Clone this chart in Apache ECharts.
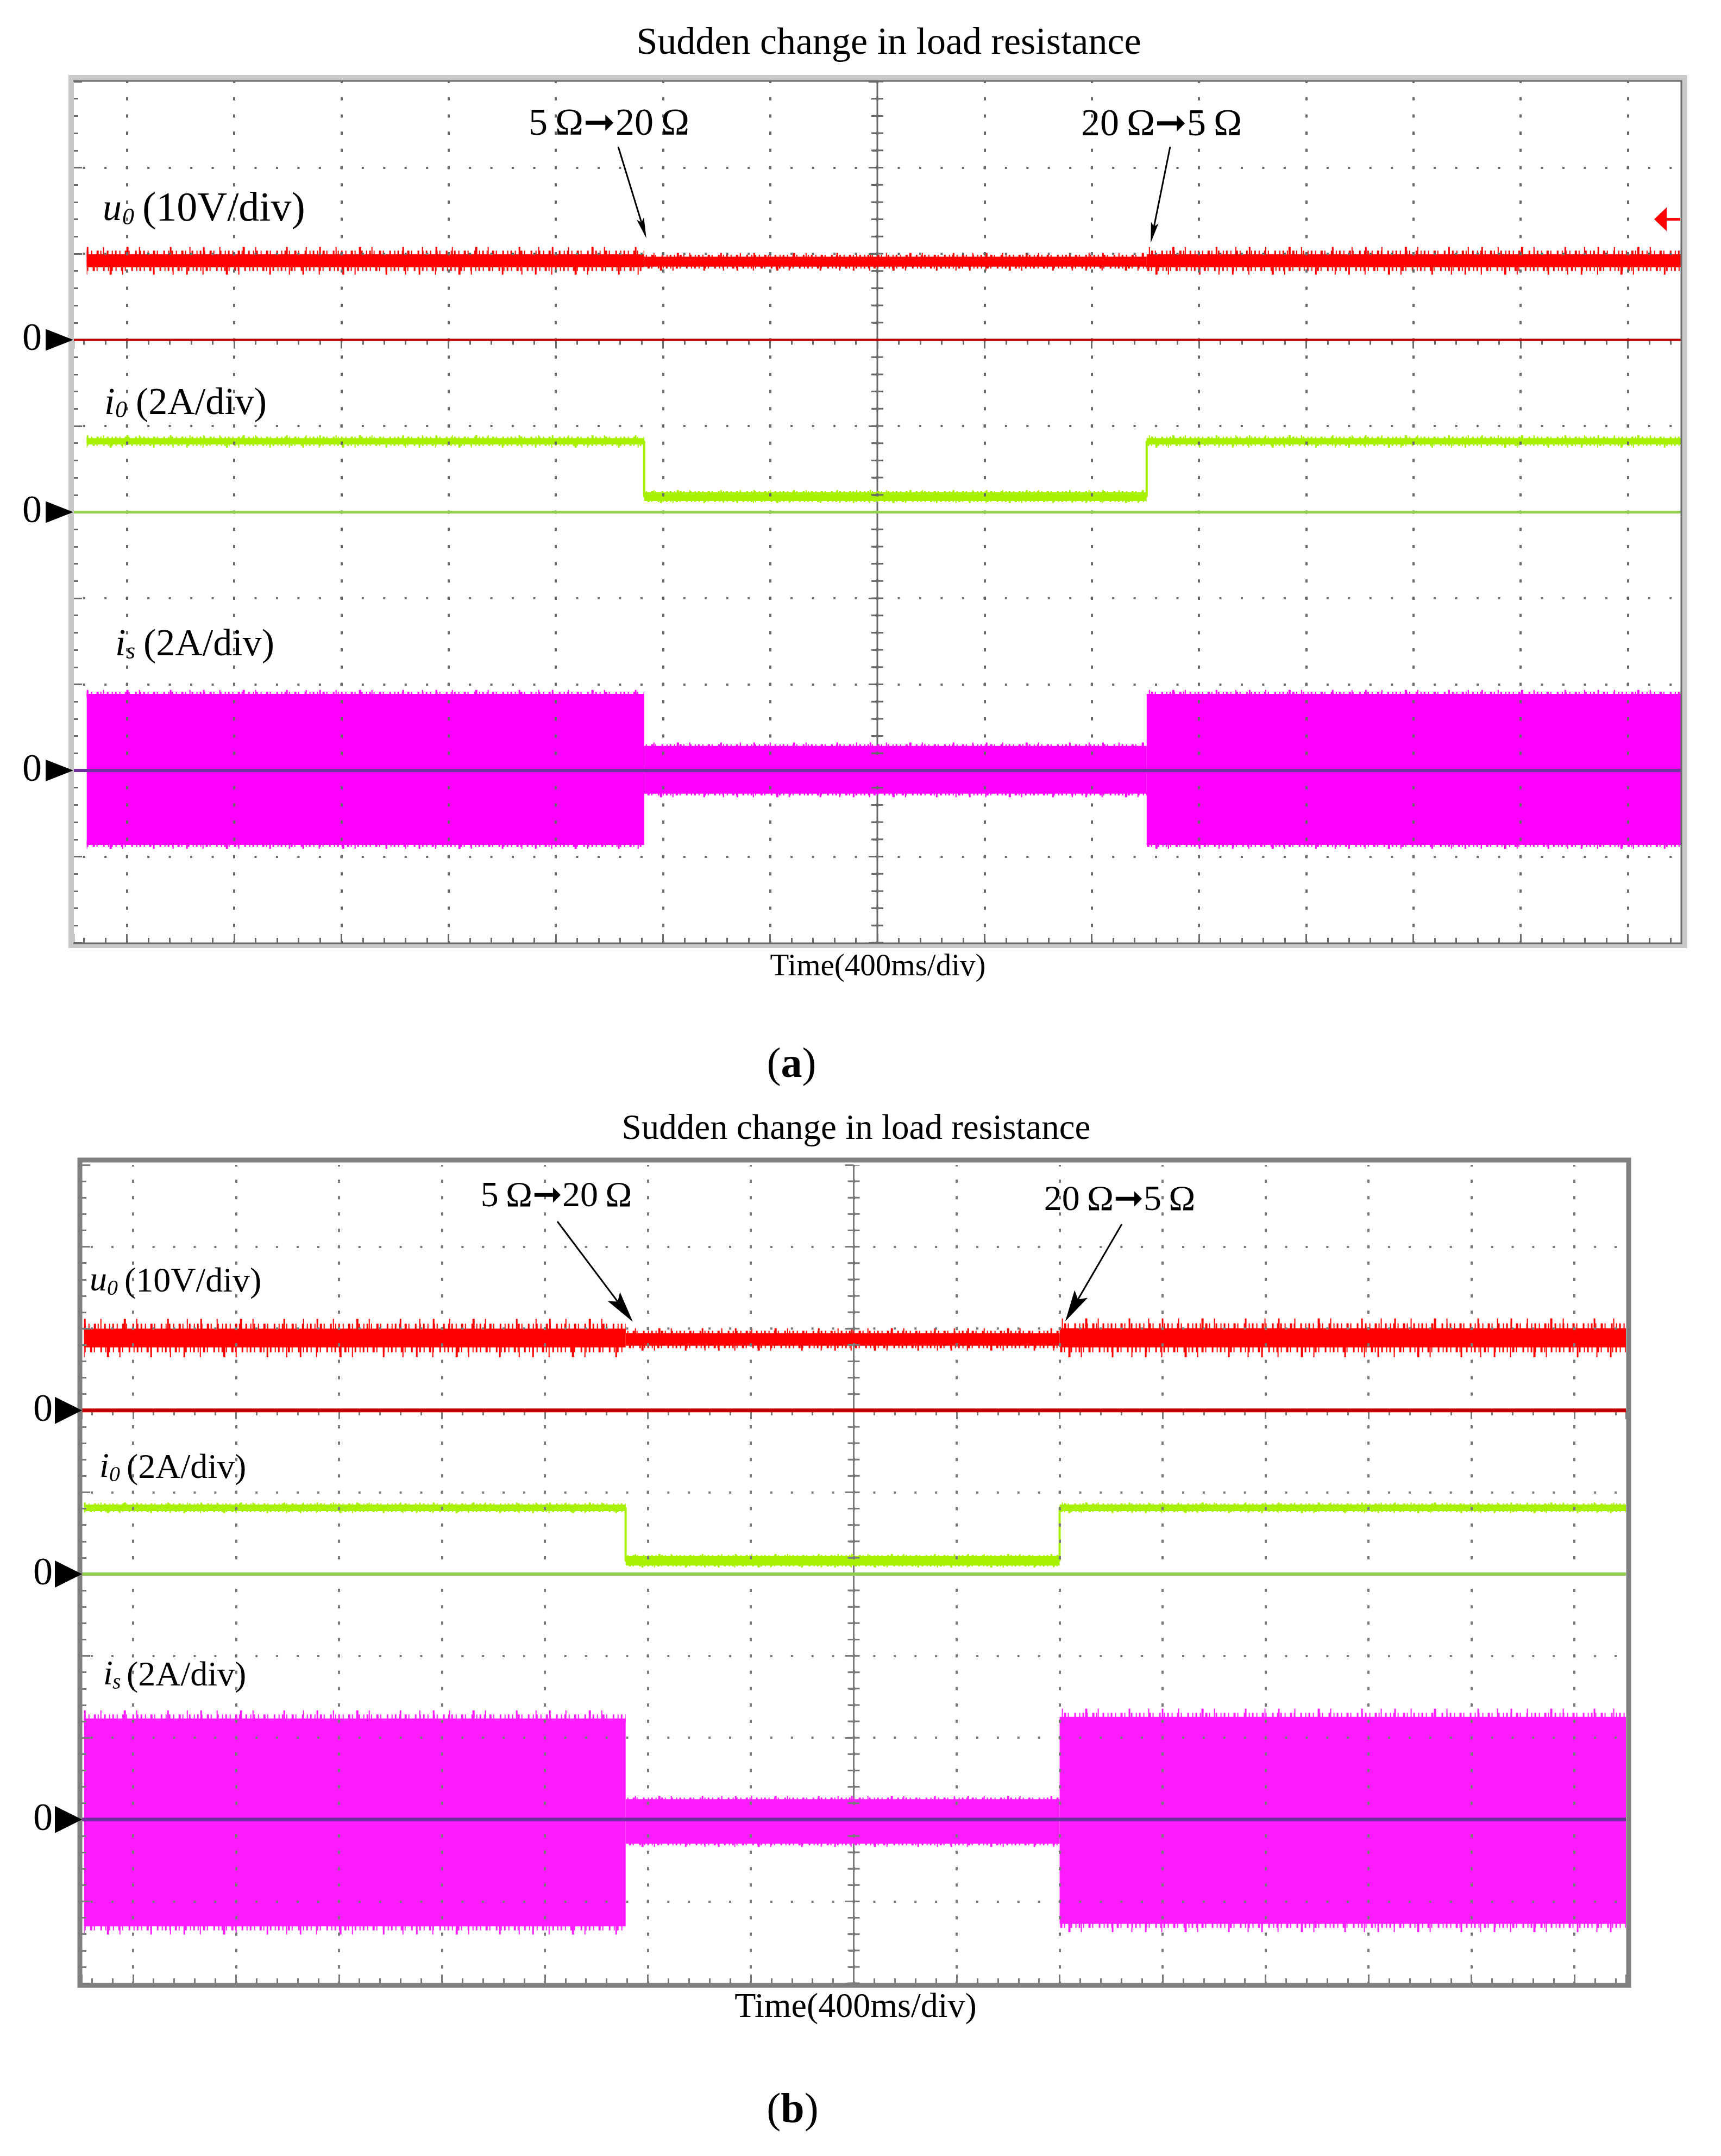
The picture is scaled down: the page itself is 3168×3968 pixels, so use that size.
<!DOCTYPE html>
<html>
<head>
<meta charset="utf-8">
<script src="https://cdn.jsdelivr.net/npm/echarts@6/dist/echarts.min.js"></script>
<style>html,body{margin:0;padding:0;background:#fff}#c{width:3168px;height:3968px}</style>
</head>
<body>
<div id="c"></div>
<script>
// ================= DATA =================
// Time in ms across the 6 s screen (15 div x 400 ms/div).
// Breakpoints: trace start, 5Ω→20Ω switch, 20Ω→5Ω switch, trace end.
const timeA = [50, 2130, 4005, 6000];
const u0LoA = [8.42, 8.50, 8.42];     // output voltage band, V
const u0HiA = [9.94, 9.65, 9.94];
const u0SpkA = [0.85, 0.45, 0.85];    // typical noise spike beyond the band, V
const i0LoA = [1.57, 0.26, 1.57];     // output current band, A
const i0HiA = [1.72, 0.46, 1.72];
const i0SpkA = [0.07, 0.05, 0.07];
const isLoA = [-1.73, -0.54, -1.73];  // source current envelope, A
const isHiA = [1.78, 0.57, 1.78];
const isSpkA = [0.09, 0.08, 0.09];

const timeB = [10, 2114, 3800, 6000];
const u0LoB = [7.70, 7.90, 7.70];
const u0HiB = [10.00, 9.45, 10.05];
const u0SpkB = [1.2, 0.6, 1.2];
const i0LoB = [1.54, 0.21, 1.54];
const i0HiB = [1.70, 0.44, 1.70];
const i0SpkB = [0.05, 0.05, 0.05];
const isLoB = [-2.61, -0.59, -2.55];
const isHiB = [2.47, 0.50, 2.51];
const isSpkB = [0.2, 0.08, 0.2];

// annotation arrow tips: [time ms, u0 volts]
const annLabels = ['5\u2009Ω➞20\u2009Ω', '20\u2009Ω➞5\u2009Ω'];
const annTipA = [[2138, 11.8], [4020, 11.26]];
const annTipB = [[2142, 10.83], [3822, 10.9]];
const trigLevelA = 14.0;              // V, red trigger marker (panel a)

// channel settings
const chanNames = ['u0', 'i0', 'is'];
const unitsPerDiv = [10, 2, 2];       // 10V/div, 2A/div, 2A/div
const zeroDivFromTop = [3, 5, 8];
const screenDivX = 15, screenDivY = 10, msPerDiv = 400;

const titleText = 'Sudden change in load resistance';
const timeText = 'Time(400ms/div)';

// ================= LAYOUT / STYLE =================
const SERIF = '"Liberation Serif", "Times New Roman", "DejaVu Serif", serif';
const DASH_SHORT = [3, 5, 2, 8, 4, 3, 2, 10, 3, 6, 2, 4];
const DASH_TALL = [3, 27, 2, 41, 4, 19, 2, 55, 3, 33, 2, 23];
const panels = [
  { grid: {left: 135, top: 150, width: 2960, height: 1585},
    time: timeA, bands: [[u0LoA, u0HiA, u0SpkA], [i0LoA, i0HiA, i0SpkA], [isLoA, isHiA, isSpkA]], tips: annTipA,
    colors: ['#ff0000', '#a6f000', '#ff00ff'], zeroColors: ['#c00000', '#92d050', '#7030a0'], zeroW: [4, 5, 6],
    gridColor: '#6a6a6a' },
  { grid: {left: 150, top: 2144, width: 2843, height: 1506},
    time: timeB, bands: [[u0LoB, u0HiB, u0SpkB], [i0LoB, i0HiB, i0SpkB], [isLoB, isHiB, isSpkB]], tips: annTipB,
    colors: ['#ff0000', '#a6f000', '#ff1cff'], zeroColors: ['#c00000', '#92d050', '#7030a0'], zeroW: [7, 6, 7],
    gridColor: '#7a7a7a' }
];

const chart = echarts.init(document.getElementById('c'), null, {renderer: 'canvas', width: 3168, height: 3968});

const grids = [], xAxes = [], yAxes = [], series = [];
panels.forEach((p, k) => {
  const g = p.grid;
  grids.push({left: g.left, top: g.top, width: g.width, height: g.height, show: false, containLabel: false, outerBoundsMode: 'none'});
  const mX = g.width / (screenDivX * 5), mY = g.height / (screenDivY * 5);
  const tickStyle = {color: p.gridColor, width: 3};
  // data time axis
  xAxes.push({gridIndex: k, type: 'value', min: 0, max: screenDivX * msPerDiv, show: false});
  // graticule axes (in divisions, centre = 0)
  const gx = (pos, split) => ({
    gridIndex: k, type: 'value', position: pos, min: -screenDivX / 2, max: screenDivX / 2, splitNumber: screenDivX, z: 3,
    axisLine: {show: false}, axisLabel: {show: false},
    axisTick: {show: true, inside: true, length: 16, lineStyle: tickStyle},
    minorTick: {show: true, splitNumber: 5, length: 9, lineStyle: tickStyle},
    splitLine: {show: split, showMinLine: false, showMaxLine: false,
      lineStyle: {color: p.gridColor, width: 4, type: [6, mY - 6], dashOffset: 3}},
    minorSplitLine: {show: false}
  });
  xAxes.push(gx('bottom', true), gx('top', false));
  const gy = (pos, split) => ({
    gridIndex: k, type: 'value', position: pos, min: 0, max: screenDivY, interval: 1, z: 3,
    axisLine: {show: false}, axisLabel: {show: false},
    axisTick: {show: true, inside: true, length: 16, lineStyle: tickStyle},
    minorTick: {show: true, splitNumber: 5, length: 9, lineStyle: tickStyle},
    splitLine: {show: split, showMinLine: false, showMaxLine: false,
      lineStyle: {color: p.gridColor, width: 4, type: [4, mX - 4], dashOffset: mX / 2 + 2}},
    minorSplitLine: {show: false}
  });
  yAxes.push(gy('left', true), gy('right', false));
  chanNames.forEach((c, ci) => yAxes.push({
    gridIndex: k, type: 'value', show: false,
    min: -(screenDivY - zeroDivFromTop[ci]) * unitsPerDiv[ci],
    max: zeroDivFromTop[ci] * unitsPerDiv[ci]
  }));

  const xT = k * 3, xG = k * 3 + 1, yG = k * 5;
  // centre vertical line of the graticule + its small ticks
  series.push({type: 'line', xAxisIndex: xG, yAxisIndex: yG, z: 1, silent: true, symbol: 'none', animation: false,
    data: [[0, 0], [0, screenDivY]], lineStyle: {color: p.gridColor, width: 3}});
  series.push({type: 'line', xAxisIndex: xG, yAxisIndex: yG, z: 3, silent: true, symbol: 'none', animation: false,
    data: [[0, 0], [0, screenDivY]], lineStyle: {color: p.gridColor, width: 22, type: [3, mY - 3], dashOffset: 1.5}});

  // channel traces (band + noise fringe)
  p.bands.forEach((b, ci) => {
    const lo = b[0], hi = b[1], spk = b[2];
    const col = p.colors[ci];
    const data = lo.map((l, j) => [p.time[j], p.time[j + 1], l, hi[j], spk[j]]);
    series.push({
      type: 'custom', name: chanNames[ci], xAxisIndex: xT, yAxisIndex: k * 5 + 2 + ci, z: 2, silent: true, animation: false,
      data: data, encode: {x: [0, 1], y: [2, 3]},
      renderItem: (params, api) => {
        const a = api.coord([api.value(0), api.value(3)]);
        const c = api.coord([api.value(1), api.value(2)]);
        const sp = Math.abs(api.size([0, api.value(4)])[1]);
        const x0 = Math.min(a[0], c[0]), x1 = Math.max(a[0], c[0]);
        const yT = Math.min(a[1], c[1]), yB = Math.max(a[1], c[1]);
        const ch = [{type: 'rect', shape: {x: x0, y: yT, width: x1 - x0, height: Math.max(2, yB - yT)}, style: {fill: col}}];
        if (sp > 1) {
          [yT, yB].forEach((y, e) => {
            ch.push({type: 'line', shape: {x1: x0, y1: y, x2: x1, y2: y},
              style: {stroke: col, lineWidth: sp, lineDash: DASH_SHORT, lineDashOffset: 7 * e + params.dataIndex * 5}});
            ch.push({type: 'line', shape: {x1: x0, y1: y, x2: x1, y2: y},
              style: {stroke: col, lineWidth: 2 * sp, lineDash: DASH_TALL, lineDashOffset: 31 * e + params.dataIndex * 13}});
          });
        }
        return {type: 'group', children: ch};
      }
    });
    if (ci === 1) {
      // i0 step transitions
      const pts = [];
      lo.forEach((l, j) => { const m = (l + hi[j]) / 2; pts.push([p.time[j], m], [p.time[j + 1], m]); });
      series.push({type: 'line', xAxisIndex: xT, yAxisIndex: k * 5 + 3, z: 2, silent: true, symbol: 'none', animation: false,
        data: pts, lineStyle: {color: col, width: 4}});
    }
    // zero reference line of the channel
    series.push({type: 'line', xAxisIndex: xT, yAxisIndex: k * 5 + 2 + ci, z: 4, silent: true, symbol: 'none', animation: false,
      data: [[0, 0], [screenDivX * msPerDiv, 0]], lineStyle: {color: p.zeroColors[ci], width: p.zeroW[ci]}});
  });
});

chart.setOption({
  backgroundColor: '#ffffff',
  animation: false,
  grid: grids, xAxis: xAxes, yAxis: yAxes, series: series
});

// ================= GRAPHIC OVERLAY (frames, labels, annotations) =================
const els = [];
function txt(x, y, text, size, opts) {
  opts = opts || {};
  els.push({type: 'text', x: x, y: y, z: 20, silent: true, style: {
    text: text, fontSize: size, fontFamily: SERIF, fontStyle: opts.italic ? 'italic' : 'normal',
    fontWeight: opts.bold ? 'bold' : 'normal', fill: '#000',
    align: opts.align || 'left', textAlign: opts.align || 'left',
    verticalAlign: 'middle', textVerticalAlign: 'middle', rich: opts.rich }});
}
// frames
els.push({type: 'rect', z: 15, silent: true, shape: {x: 131, y: 143, width: 2970, height: 1597},
  style: {fill: 'none', stroke: '#c8c8c8', lineWidth: 10}});
els.push({type: 'polyline', z: 16, silent: true, shape: {points: [[135, 149], [3095, 149], [3095, 1736], [135, 1736]]},
  style: {fill: 'none', stroke: '#6b6b6b', lineWidth: 3}});
els.push({type: 'rect', z: 15, silent: true, shape: {x: 147, y: 2135, width: 2851, height: 1519},
  style: {fill: 'none', stroke: '#808080', lineWidth: 9}});

// titles, time labels, sub-figure labels
txt(1636, 81, titleText, 70, {align: 'center'});
txt(1576, 2079, titleText, 65, {align: 'center'});
txt(1616, 1780, timeText, 57, {align: 'center'});
txt(1575, 3695, timeText, 64, {align: 'center'});
const subRich = (s) => ({n: {fontSize: s, fontFamily: SERIF}, b: {fontSize: s, fontFamily: SERIF, fontWeight: 'bold'}});
txt(1457, 1962, '{n|(}{b|a}{n|)}', 78, {align: 'center', rich: subRich(78)});
txt(1459, 3886, '{n|(}{b|b}{n|)}', 78, {align: 'center', rich: subRich(78)});

// channel labels: [main letter, subscript, scale text]
const chanLabelText = [['u', '0', '(10V/div)'], ['i', '0', '(2A/div)'], ['i', 's', '(2A/div)']];
const labelLayout = [
  {S: [76, 70, 70], s: 44, pos: [[189, 412, 225, 262], [192, 767, 212, 250], [212, 1211, 232, 264]]},
  {S: [64, 64, 64], s: 40, pos: [[165, 2382, 197, 229], [183, 2725, 201, 233], [190, 3107, 207, 233]]}
];
labelLayout.forEach((L) => {
  L.pos.forEach((q, ci) => {
    const t = chanLabelText[ci];
    const S = L.S[ci];
    txt(q[0], q[1] - 0.34 * 70 * (S / L.S[1]), t[0], L.S[1], {italic: true});
    txt(q[2], q[1] + 4 - 0.34 * L.s, t[1], L.s, {italic: true});
    txt(q[3], q[1] - 0.34 * S, t[2], S);
  });
});

// zero markers "0▶"
const zeroMark = [{zx: 59, tl: 84, tr: 135, h: 40}, {zx: 79, tl: 101, tr: 151, h: 50}];
panels.forEach((p, k) => {
  const Z = zeroMark[k];
  chanNames.forEach((c, ci) => {
    const y = chart.convertToPixel({xAxisIndex: k * 3, yAxisIndex: k * 5 + 2 + ci}, [0, 0])[1];
    els.push({type: 'polygon', z: 20, silent: true, shape: {points: [[Z.tl, y - Z.h / 2], [Z.tr, y], [Z.tl, y + Z.h / 2]]}, style: {fill: '#000'}});
    txt(Z.zx, y, '0', 72, {align: 'center'});
  });
});

// red trigger marker (panel a)
(function () {
  const y = chart.convertToPixel({xAxisIndex: 0, yAxisIndex: 2}, [0, trigLevelA])[1];
  els.push({type: 'polygon', z: 20, silent: true, shape: {points: [[3045, y], [3068, y - 22], [3068, y + 22]]}, style: {fill: '#ff0000'}});
  els.push({type: 'line', z: 20, silent: true, shape: {x1: 3066, y1: y, x2: 3093, y2: y}, style: {stroke: '#ff0000', lineWidth: 5}});
})();

// annotation arrows and texts
const annLayout = [
  {S: 70, L: 38, W: 7, lw: 3, items: [{tail: [1138, 270], text: [1121, 230]}, {tail: [2154, 270], text: [2138, 231]}]},
  {S: 66, L: 58, W: 14, lw: 3, items: [{tail: [1026, 2248], text: [1024, 2203]}, {tail: [2065, 2253], text: [2061, 2210]}]}
];
panels.forEach((p, k) => {
  const A = annLayout[k];
  A.items.forEach((it, j) => {
    const tip = chart.convertToPixel({xAxisIndex: k * 3, yAxisIndex: k * 5 + 2}, p.tips[j]);
    const dx = tip[0] - it.tail[0], dy = tip[1] - it.tail[1];
    const len = Math.hypot(dx, dy), ux = dx / len, uy = dy / len, nx = -uy, ny = ux;
    const bx = tip[0] - A.L * ux, by = tip[1] - A.L * uy;
    const nbx = tip[0] - 0.8 * A.L * ux, nby = tip[1] - 0.8 * A.L * uy;
    els.push({type: 'line', z: 20, silent: true, shape: {x1: it.tail[0], y1: it.tail[1], x2: nbx, y2: nby},
      style: {stroke: '#000', lineWidth: A.lw}});
    els.push({type: 'polygon', z: 20, silent: true,
      shape: {points: [[tip[0], tip[1]], [bx + A.W * nx, by + A.W * ny], [nbx, nby], [bx - A.W * nx, by - A.W * ny]]},
      style: {fill: '#000'}});
    txt(it.text[0], it.text[1], annLabels[j], A.S, {align: 'center'});
  });
});

chart.setOption({graphic: {elements: els}});
</script>
</body>
</html>
